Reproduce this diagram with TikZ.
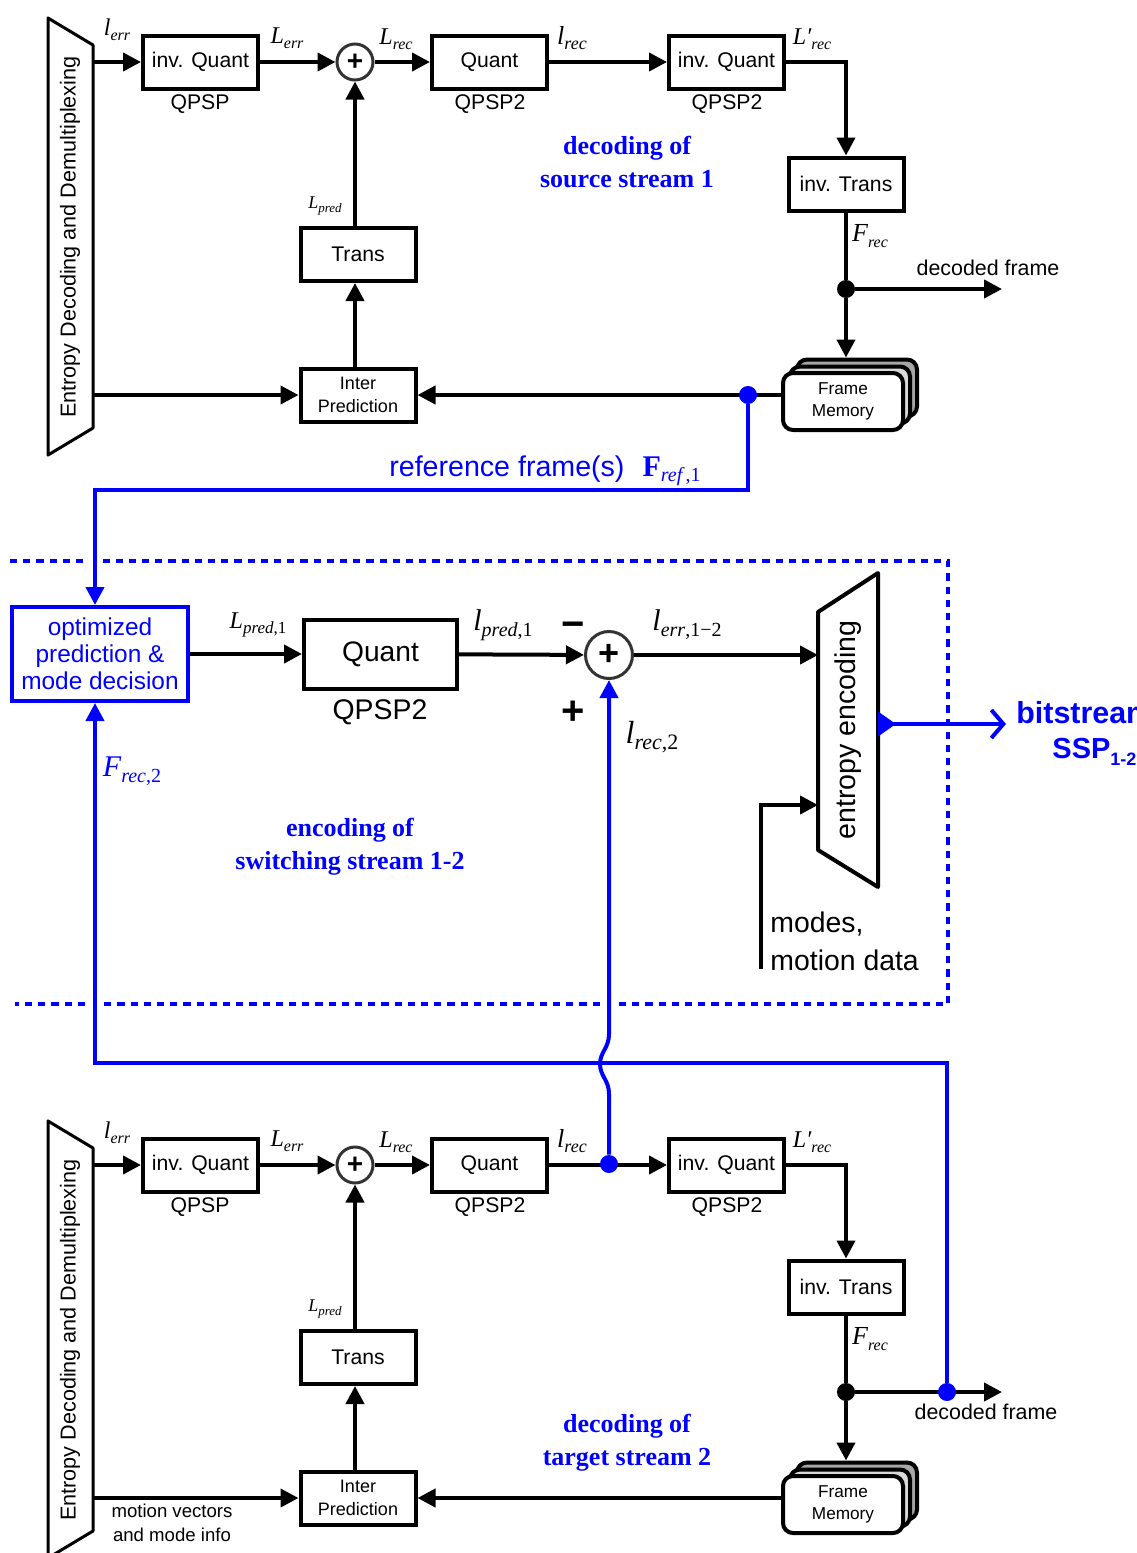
\documentclass[tikz,border=0pt]{standalone}
\usepackage{fontspec}
\setmainfont{Liberation Sans}
\newfontfamily\tms{Liberation Serif}
\usetikzlibrary{arrows.meta,positioning,calc}
\definecolor{sigblue}{HTML}{0000FF}
\definecolor{ringgray}{HTML}{333333}
\definecolor{stackdark}{HTML}{A6A6A6}
\definecolor{stacklight}{HTML}{D9D9D9}

\newcommand\fsz[2]{\fontsize{#1}{#2}\selectfont}
% italic signal name with a lowered index: size, index size, name, index
\newcommand\symb[4]{{\tms\itshape\fontsize{#1}{#1}\selectfont #3\raisebox{-0.45ex}{\fontsize{#2}{#2}\selectfont #4}}}

\tikzset{
  wire/.style={line width=2pt},
  arr/.style={wire, -{Triangle[length=9pt,width=9pt]}},
  bwire/.style={sigblue, line width=2pt},
  barr/.style={bwire, -{Triangle[length=9pt,width=9pt]}},
  blk/.style={draw, line width=2pt, minimum width=57.5pt, minimum height=26.5pt, inner sep=0pt, font=\fsz{10.6}{12}},
  small blk/.style={blk, font=\fsz{9}{11.5}, align=center},
  qlab/.style={font=\fsz{10.6}{12}, inner sep=0pt},
  sumnode/.style={circle, draw=ringgray, line width=1.5pt, fill=white, minimum size=18pt, inner sep=0pt, font=\fsz{14}{14}\bfseries},
  jdot/.style={circle, fill, inner sep=0pt, minimum size=9pt},
  fmem/.style={draw, line width=2pt, rounded corners=5pt, minimum width=60pt, minimum height=28.5pt},
  bighead/.style={font=\tms\bfseries\fsz{13}{16.5}, text=sigblue, align=center},
  boundary/.style={sigblue, line width=1.7pt, dash pattern=on 3.6pt off 3pt},
}

\begin{document}
\begin{tikzpicture}[x=0.5pt,y=-0.5pt]
\useasboundingbox (0,0) rectangle (1136,1553);

% the two decoders (stream 1 on top, stream 2 below)
\foreach \dec/\off in {1/0,2/1103}{
  \draw[line width=1.5pt, line join=round] (48,{18+\off}) -- (93,{45+\off}) -- (93,{428+\off}) -- (48,{455+\off}) -- cycle;
  \node[rotate=90, font=\fsz{10.8}{13}] (dmx\dec) at (70,{237+\off}) {Entropy Decoding and Demultiplexing};
  \coordinate (dmx\dec-err) at (93,{62+\off});
  \coordinate (dmx\dec-mv) at (93,{395+\off});

  \node[blk] (iq\dec) at (200.5,{62+\off}) {inv. Quant};
  \node[qlab] (iq\dec-p) at (200,{104+\off}) {QPSP};
  \node[sumnode] (sum\dec) at (355,{62+\off}) {+};
  \node[blk] (q\dec) at (489.5,{62+\off}) {Quant};
  \node[qlab] (q\dec-p) at (490,{104+\off}) {QPSP2};
  \node[blk] (iqb\dec) at (726.5,{62+\off}) {inv. Quant};
  \node[qlab] (iqb\dec-p) at (727,{104+\off}) {QPSP2};
  \node[blk] (it\dec) at (846,{184+\off}) {inv. Trans};
  \node[blk] (tr\dec) at (358,{254.5+\off}) {Trans};
  \node[small blk] (ip\dec) at (358,{395+\off}) {Inter\\Prediction};

  \node[fmem, fill=stackdark] (fmc\dec) at (857,{388+\off}) {};
  \node[fmem, fill=stacklight] (fmb\dec) at (850,{395+\off}) {};
  \node[fmem, fill=white, align=center, font=\fsz{8.6}{11}] (fm\dec) at (843,{401.5+\off}) {Frame\\Memory};
  \node[jdot] (jd\dec) at (846,{289+\off}) {};
  \coordinate (out\dec) at (1002,{289+\off});

  \draw[arr] (dmx\dec-err) -- (iq\dec);
  \draw[arr] (iq\dec) -- (sum\dec);
  \draw[arr] (sum\dec) -- (q\dec);
  \draw[arr] (q\dec) -- (iqb\dec);
  \draw[arr] (iqb\dec) -| (it\dec);
  \draw[wire] (it\dec) -- (jd\dec);
  \draw[arr] (jd\dec) -- (out\dec);
  \draw[arr] (jd\dec) -- (fmc\dec.north -| jd\dec);
  \draw[arr] (fm\dec.west |- ip\dec) -- (ip\dec);
  \draw[arr] (dmx\dec-mv) -- (ip\dec);
  \draw[arr] (ip\dec.north -| sum\dec) -- (tr\dec.south -| sum\dec);
  \draw[arr] (tr\dec.north -| sum\dec) -- (sum\dec);

  \node (lerr\dec) at (117,{30+\off}) {\symb{12}{8}{l}{err}};
  \node (Lerr\dec) at (287,{38+\off}) {\symb{12}{8}{L}{err}};
  \node (Lrec\dec) at (396,{39+\off}) {\symb{12}{8}{L}{rec}};
  \node (lrec\dec) at (572,{38+\off}) {\symb{13}{9}{l}{rec}};
  \node (Lrecp\dec) at (812,{39+\off}) {\symb{12}{8}{L′}{rec}};
  \node (Lpred\dec) at (325,{206+\off}) {\symb{9}{6.5}{L}{pred}};
  \node (Frec\dec) at (870,{236+\off}) {\symb{13}{8}{F}{rec}};
}

\node[font=\fsz{10.7}{12}] (dec1) at (988,268) {decoded frame};
\node[font=\fsz{10.7}{12}] (dec2) at (986,1412) {decoded frame};
\node[font=\fsz{9.3}{12}, align=center] (mvinfo) at (172,1523) {motion vectors\\and mode info};

\node[bighead] (hd1) at (627,162.5) {decoding of\\source stream 1};
\node[bighead] (hd2) at (350,846.5) {encoding of\\switching stream 1-2};
\node[bighead] (hd3) at (627,1442.5) {decoding of\\target stream 2};

% switching stream encoder
\draw[boundary] (10,561) -- (948,561) -- (948,1004) -- (15,1004);
\node[draw=sigblue, line width=2pt, text=sigblue, align=center, font=\fsz{12.2}{13.5}, minimum width=88pt, minimum height=47pt, inner sep=0pt] (opt) at (100,654) {optimized\\prediction \&\\mode decision};
\node[blk, minimum width=76.5pt, minimum height=34.5pt, font=\fsz{14.1}{16}] (qs) at (380.5,654) {Quant};
\node[font=\fsz{14.2}{16}, inner sep=0pt] (qs-p) at (380,712) {QPSP2};
\node[sumnode, minimum size=23.5pt, font=\fsz{18}{18}\bfseries] (sums) at (609,655) {+};
\node[font=\fsz{20}{20}\bfseries] (minus) at (573,630) {−};
\node[font=\fsz{20}{20}\bfseries] (plus) at (573,713) {+};

\draw[line width=2pt, line join=round] (818,612) -- (878,573) -- (878,887) -- (818,850) -- cycle;
\node[rotate=90, font=\fsz{14.3}{16}] (enc) at (848,730) {entropy encoding};
\coordinate (enc-in) at (818,655);
\coordinate (enc-md) at (818,805);
\coordinate (enc-out) at (878,724);
\coordinate (bs) at (1006,724);
\coordinate (md-foot) at (761,969);

\draw[arr] (opt.east |- qs) -- (qs);
\draw[arr] (qs) -- (sums);
\draw[arr] (sums) -- (enc-in);
\draw[arr] (md-foot) |- (enc-md);
\draw[sigblue, line width=2pt, {Triangle[reversed,length=9pt,width=12pt]}-{Straight Barb[length=6pt,width=14pt]}] (enc-out) -- (bs);

\node[anchor=north west, align=left, font=\fsz{14.2}{19}, inner sep=0pt] (modes) at (770,912) {modes,\\motion data};
\node[anchor=west, text=sigblue, font=\fsz{15.2}{17}\bfseries, inner sep=0pt] (bsl) at (1016,713) {bitstream};
\node[anchor=west, text=sigblue, font=\fsz{14.5}{16}\bfseries, inner sep=0pt] (ssp) at (1052,752) {SSP\raisebox{-0.5ex}{\fsz{9}{9}1-2}};

\node (Lpred1) at (258,625) {\symb{12}{8.5}{L}{pred\upshape,1}};
\node (lpred1) at (503,625) {\symb{15}{10}{l}{pred\upshape,1}};
\node (lerr12) at (687,625) {\symb{15}{10}{l}{err\upshape,1−2}};
\node (lrec2) at (652,737) {\symb{16}{11}{l}{rec\upshape,2}};
\node[text=sigblue] (Frec2) at (132,771) {\symb{15}{10}{F}{rec\upshape,2}};

% gaps in the boundary where the feedback lines pass
\fill[white] (87,553) rectangle (103,569);
\fill[white] (87,996) rectangle (103,1012);
\fill[white] (601,996) rectangle (617,1012);

% reference frame and reconstructed residual feedback
\node[jdot, sigblue] (rd) at (748,395) {};
\node[jdot, sigblue] (tap) at (609,1164) {};
\node[jdot, sigblue] (fd) at (947,1392) {};
\coordinate (rbend) at (95,490);
\coordinate (fbend1) at (947,1063);
\coordinate (fbend2) at (95,1063);
\coordinate (hop-lo) at (609,1094);
\coordinate (hop-hi) at (609,1034);

\draw[barr] (rd) |- (rbend) -- (opt.north -| rbend);
\node[text=sigblue] (reflab) at (545,471) {{\fsz{14.3}{16}reference frame(s)}\hspace{9pt}{\tms\bfseries\fsz{15}{15}F}\raisebox{-0.5ex}{\tms\fsz{10}{10}\itshape ref\upshape\,,1}};
\draw[barr] (fd) -- (fbend1) -- (fbend2) -- (opt.south -| fbend2);
\draw[barr] (tap) -- (hop-lo) .. controls (609,1080) and (600,1076) .. (600,1064) .. controls (600,1052) and (609,1048) .. (hop-hi) -- (sums.south);

\end{tikzpicture}
\end{document}
